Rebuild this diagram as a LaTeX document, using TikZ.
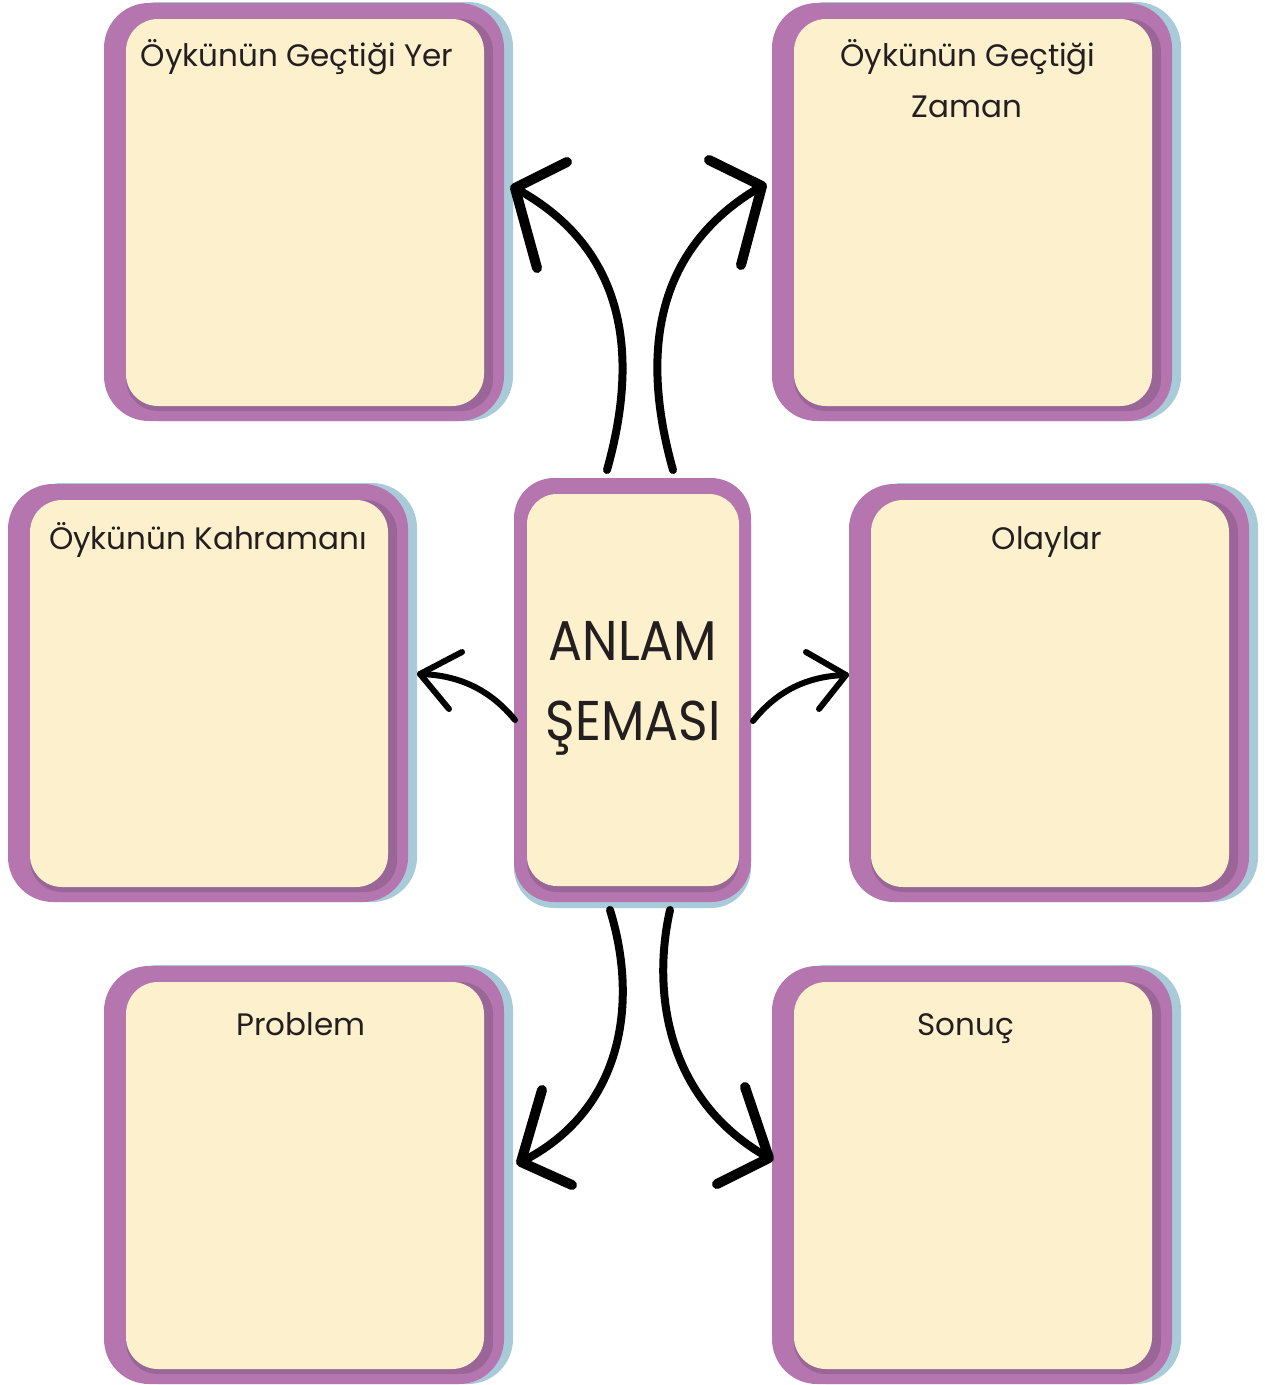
\documentclass[tikz,border=0pt]{standalone}
\usepackage{fontspec}
\setmainfont{Poppins}
\definecolor{boxpurple}{HTML}{B576B0}
\definecolor{darkpurple}{HTML}{9A6697}
\definecolor{shadowblue}{HTML}{A9CAD8}
\definecolor{cream}{HTML}{FDF0CC}
\definecolor{ink}{HTML}{231F20}
\newcommand\schemebox[2]{%
  \fill[shadowblue, rounded corners=45] (#1+9,#2-1) rectangle ++(400,419);
  \fill[boxpurple, rounded corners=45] (#1,#2) rectangle ++(400,418);
  \fill[darkpurple, rounded corners=32] (#1+22,#2+16) rectangle ++(367,392);
  \fill[cream, rounded corners=32] (#1+22,#2+16) rectangle ++(358,387);
}
\tikzset{
  title/.style={anchor=base, inner sep=0pt, text=ink, font=\fontsize{31}{36}\selectfont},
  bigtext/.style={anchor=base, inner sep=0pt, text=ink, font=\fontsize{56}{66}\selectfont},
  shaft/.style={line width=8pt, line cap=round},
  head/.style={line width=10pt, line cap=round, line join=round},
  thinshaft/.style={line width=6pt, line cap=round},
  thinhead/.style={line width=6pt, line cap=round, line join=round}
}
\begin{document}
\begin{tikzpicture}[x=1pt,y=-1pt]
\useasboundingbox (0,0) rectangle (1265,1385);
% boxes
\schemebox{104}{3}
\schemebox{772}{3}
\schemebox{8}{484}
\schemebox{849}{484}
\schemebox{104}{966}
\schemebox{772}{966}
% central box
\fill[shadowblue, rounded corners=40] (514,484) rectangle (751,908);
\fill[boxpurple, rounded corners=40] (514,478) rectangle (751,902);
\fill[darkpurple, rounded corners=30] (527,494) rectangle (739,892);
\fill[cream, rounded corners=30] (527,494) rectangle (739,886);
% titles
\node[title] (t1) at (297,66) {Öykünün Geçtiği Yer};
\node[title] (t2a) at (968,66) {Öykünün Geçtiği};
\node[title] (t2b) at (967,117) {Zaman};
\node[title] (t3) at (208,549) {Öykünün Kahramanı};
\node[title] (t4) at (1047,549) {Olaylar};
\node[title] (t5) at (301,1035) {Problem};
\node[title] (t6) at (966,1035) {Sonuç};
\node[bigtext] (c1) at (633,660) {\scalebox{0.9}[1]{ANLAM}};
\node[bigtext] (c2) at (633,740) {\scalebox{0.9}[1]{ŞEMASI}};
% arrow coordinates
\coordinate (s1) at (607,470); \coordinate (e1) at (515,188);
\coordinate (a1) at (567,162); \coordinate (b1) at (537,268);
\coordinate (s2) at (673,470); \coordinate (e2) at (762,186);
\coordinate (a2) at (709,160); \coordinate (b2) at (741,265);
\coordinate (s3) at (610,910); \coordinate (e3) at (521,1162);
\coordinate (a3) at (542,1090); \coordinate (b3) at (572,1185);
\coordinate (s4) at (670,910); \coordinate (e4) at (769,1158);
\coordinate (a4) at (745,1087); \coordinate (b4) at (717,1184);
\coordinate (s5) at (515,720); \coordinate (e5) at (420,674);
\coordinate (a5) at (462,652); \coordinate (b5) at (449,709);
\coordinate (s6) at (753,721); \coordinate (e6) at (846,675);
\coordinate (a6) at (806,652); \coordinate (b6) at (819,709);
% arrows
\draw[shaft] (s1) .. controls (638,360) and (630,250) .. (e1);
\draw[head] (a1) -- (e1) -- (b1);
\draw[shaft] (s2) .. controls (642,360) and (650,250) .. (e2);
\draw[head] (a2) -- (e2) -- (b2);
\draw[shaft] (s3) .. controls (638,1000) and (625,1110) .. (e3);
\draw[head] (a3) -- (e3) -- (b3);
\draw[shaft] (s4) .. controls (652,990) and (665,1100) .. (e4);
\draw[head] (a4) -- (e4) -- (b4);
\draw[thinshaft] (s5) .. controls (492,692) and (462,675) .. (e5);
\draw[thinhead] (a5) -- (e5) -- (b5);
\draw[thinshaft] (s6) .. controls (776,692) and (806,676) .. (e6);
\draw[thinhead] (a6) -- (e6) -- (b6);
\end{tikzpicture}
\end{document}
